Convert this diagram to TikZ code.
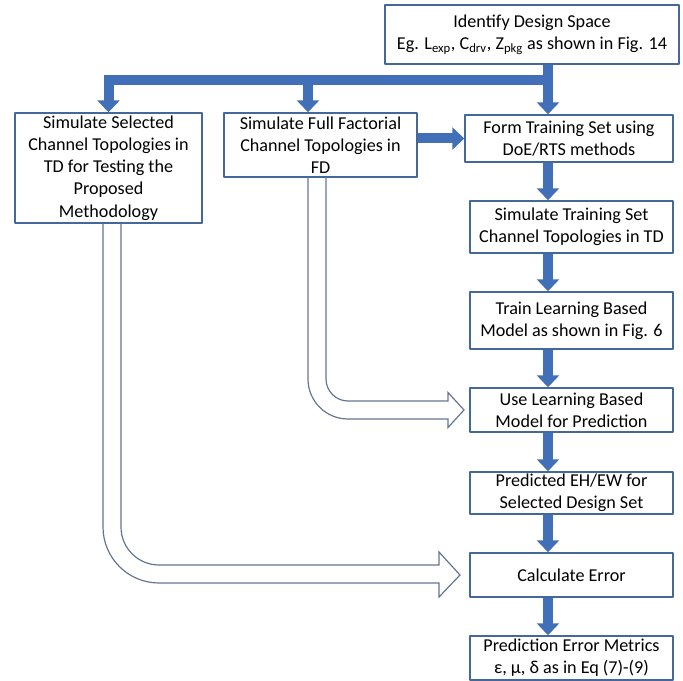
\documentclass[tikz,border=0pt]{standalone}
\usepackage{fontspec}
\setmainfont{Carlito}
\usepackage{tikz}
\usetikzlibrary{arrows.meta}
\definecolor{boxblue}{RGB}{68,104,155}
\definecolor{arrowblue}{RGB}{66,112,184}
\definecolor{hollowgray}{RGB}{100,118,145}
\begin{document}
\begin{tikzpicture}[line cap=round,line join=round,x=0.75pt,y=-0.75pt,
  box/.style={draw=boxblue,line width=1.1pt,fill=white,align=center,inner xsep=2pt,inner ysep=0.5pt,
    font=\fontsize{13.6pt}{16.6pt}\selectfont},
  fat/.style={line width=7.5pt,color=arrowblue,line cap=butt,line join=miter,
    -{Triangle[width=16.5pt,length=9pt]}},
  hollow/.style={draw=hollowgray,line width=0.9pt,line join=miter}]
\useasboundingbox (0,0) rectangle (683,681);
% boxes
\node[box,minimum width=220.5pt,minimum height=44.25pt] (top) at (532.,34.5) {Identify Design Space\\Eg. L\textsubscript{exp}, C\textsubscript{drv}, Z\textsubscript{pkg} as shown in Fig. 14};
\node[box,minimum width=140.25pt,minimum height=82.5pt] (left) at (108.5,168.) {Simulate Selected\\Channel Topologies in\\TD for Testing the\\Proposed\\Methodology};
\node[box,minimum width=144.75pt,minimum height=48pt] (mid) at (320.5,145.) {Simulate Full Factorial\\Channel Topologies in\\FD};
\node[box,minimum width=156pt,minimum height=35.25pt] (form) at (569.,138.5) {Form Training Set using\\DoE/RTS methods};
\node[box,minimum width=152.25pt,minimum height=39pt] (simtr) at (571.5,227.) {Simulate Training Set\\Channel Topologies in TD};
\node[box,minimum width=152.25pt,minimum height=42.75pt] (train) at (571.5,320.5) {Train Learning Based\\Model as shown in Fig. 6};
\node[box,minimum width=152.25pt,minimum height=33pt] (use) at (571.5,410.) {Use Learning Based\\Model for Prediction};
\node[box,minimum width=152.25pt,minimum height=31.5pt] (pred) at (571.5,493.) {Predicted EH/EW for\\Selected Design Set};
\node[box,minimum width=152.25pt,minimum height=33pt] (calc) at (571.5,575.) {Calculate Error};
\node[box,minimum width=152.25pt,minimum height=33pt] (metrics) at (571.5,658.) {Prediction Error Metrics\\ε, μ, δ as in Eq (7)-(9)};
\coordinate (bar) at (548.,80.5);
\coordinate (colx) at (548.,0.);
\coordinate (fdx) at (308.,0.);
% solid arrows
\draw[fat] (top.south -| bar) -- (form.north -| bar);
\draw[fat] (bar) -| (left.north);
\draw[fat] (bar -| fdx) -- (mid.north -| fdx);
\draw[fat] (mid.east |- form.west) -- (form.west);
\foreach \a/\b in {form/simtr,simtr/train,train/use,use/pred,pred/calc,calc/metrics}
\draw[fat] (\a.south -| colx) -- (\b.north -| colx);
% hollow arrows
\draw[hollow] (mid.south -| 326,0) -- (326.,379.) .. controls (326.,391.1) and (335.9,401.) .. (348.,401.) -- (448.,401.) -- (448.,392.5) -- (use.west -| 464,0) -- (448.,427.5) -- (448.,419.) -- (348.,419.) .. controls (325.9,419.) and (308.,401.1) .. (308.,379.) -- (mid.south -| 308,0);
\draw[hollow] (left.south -| 121,0) -- (121.,527.) .. controls (121.,548.) and (138.,565.) .. (159.,565.) -- (439.,565.) -- (439.,552.) -- (calc.west -| 460,0) -- (439.,597.) -- (439.,583.) -- (159.,583.) .. controls (128.1,583.) and (103.,557.9) .. (103.,527.) -- (left.south -| 103,0);
\end{tikzpicture}
\end{document}
